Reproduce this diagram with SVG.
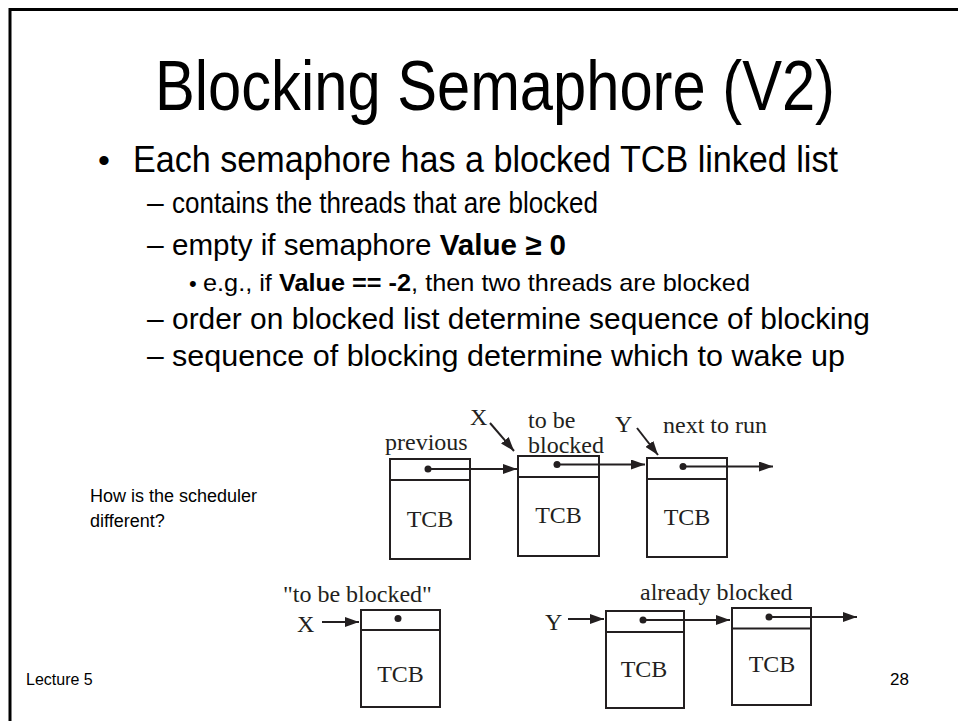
<svg xmlns="http://www.w3.org/2000/svg" width="958" height="721" viewBox="0 0 958 721">
<style>
.s{font-family:"Liberation Sans",Arial,sans-serif;fill:#000}
.l2{font-size:30px}
.t{font-family:"Liberation Serif","Times New Roman",serif;fill:#231f20;font-size:24px}
.box{fill:none;stroke:#231f20;stroke-width:2}
.ln{stroke:#231f20;stroke-width:2;fill:none}
.dot{fill:#231f20}
</style>
<defs>
<marker id="ah" viewBox="0 0 14 10" refX="14" refY="5" markerUnits="userSpaceOnUse" markerWidth="14" markerHeight="10" orient="auto">
<path d="M0,0 L14,5 L0,10 z" fill="#231f20"/>
</marker>
</defs>
<rect width="958" height="721" fill="#fff"/>
<path d="M10,721 L10,9.5 L958,9.5" fill="none" stroke="#000" stroke-width="3"/>

<g id="title"><text class="s" font-size="70" x="155" y="110" textLength="680" lengthAdjust="spacingAndGlyphs">Blocking Semaphore (V2)</text></g>

<g id="bullets">
<text class="s" font-size="34" x="98" y="172">•</text>
<text class="s" font-size="36" x="133" y="172" textLength="705" lengthAdjust="spacingAndGlyphs">Each semaphore has a blocked TCB linked list</text>
<text class="s l2" x="147" y="213">–</text>
<text class="s l2" x="172" y="213" textLength="426" lengthAdjust="spacingAndGlyphs">contains the threads that are blocked</text>
<text class="s l2" x="147" y="255">–</text>
<text class="s l2" x="172" y="255" textLength="394" lengthAdjust="spacingAndGlyphs">empty if semaphore <tspan font-weight="bold">Value ≥ 0</tspan></text>
<text class="s" font-size="22" x="189" y="291">•</text>
<text class="s" font-size="24" x="203" y="291" textLength="547" lengthAdjust="spacingAndGlyphs">e.g., if <tspan font-weight="bold">Value == -2</tspan>, then two threads are blocked</text>
<text class="s l2" x="147" y="329">–</text>
<text class="s l2" x="172" y="329" textLength="698" lengthAdjust="spacingAndGlyphs">order on blocked list determine sequence of blocking</text>
<text class="s l2" x="147" y="366">–</text>
<text class="s l2" x="172" y="366" textLength="673" lengthAdjust="spacingAndGlyphs">sequence of blocking determine which to wake up</text>
</g>

<g id="question">
<text class="s" font-size="18" x="90" y="502">How is the scheduler</text>
<text class="s" font-size="18" x="90" y="527">different?</text>
</g>

<g id="tcb-prev">
<rect class="box" x="390" y="459" width="80" height="100"/>
<line class="ln" x1="390" y1="480" x2="470" y2="480"/>
<circle class="dot" cx="428" cy="469" r="3.5"/>
<text class="t" x="385" y="450">previous</text>
<text class="t" x="430" y="527" text-anchor="middle">TCB</text>
</g>
<g id="tcb-tobeblocked">
<rect class="box" x="518" y="456" width="81" height="100"/>
<line class="ln" x1="518" y1="477" x2="599" y2="477"/>
<circle class="dot" cx="557" cy="464.5" r="3.5"/>
<text class="t" x="528" y="428">to be</text>
<text class="t" x="528" y="453">blocked</text>
<text class="t" x="558.5" y="523" text-anchor="middle">TCB</text>
</g>
<g id="tcb-next">
<rect class="box" x="647" y="458" width="80" height="99"/>
<line class="ln" x1="647" y1="479" x2="727" y2="479"/>
<circle class="dot" cx="683" cy="466.5" r="3.5"/>
<text class="t" x="663" y="433">next to run</text>
<text class="t" x="687" y="525" text-anchor="middle">TCB</text>
</g>
<g id="label-x1"><text class="t" x="470" y="425">X</text></g>
<g id="label-y1"><text class="t" x="615" y="432">Y</text></g>

<g id="tcb-x">
<text class="t" x="283" y="602">"to be blocked"</text>
<text class="t" x="297" y="632">X</text>
<rect class="box" x="361" y="610" width="79" height="97"/>
<line class="ln" x1="361" y1="630" x2="440" y2="630"/>
<circle class="dot" cx="398" cy="618.5" r="3.5"/>
<text class="t" x="400.5" y="682" text-anchor="middle">TCB</text>
</g>
<g id="tcb-blocked1">
<text class="t" x="545" y="630">Y</text>
<rect class="box" x="606" y="611" width="78" height="97"/>
<line class="ln" x1="606" y1="632" x2="684" y2="632"/>
<circle class="dot" cx="643" cy="620" r="3.5"/>
<text class="t" x="644" y="677" text-anchor="middle">TCB</text>
<text class="t" x="640" y="600">already blocked</text>
</g>
<g id="tcb-blocked2">
<rect class="box" x="732" y="608" width="79" height="97"/>
<line class="ln" x1="732" y1="628.5" x2="811" y2="628.5"/>
<circle class="dot" cx="769" cy="617" r="3.5"/>
<text class="t" x="772" y="672" text-anchor="middle">TCB</text>
</g>

<g id="connectors">
<line class="ln" x1="428" y1="469" x2="517" y2="469" marker-end="url(#ah)"/>
<line class="ln" x1="557" y1="464.5" x2="645" y2="464.5" marker-end="url(#ah)"/>
<line class="ln" x1="683" y1="466.5" x2="773" y2="466.5" marker-end="url(#ah)"/>
<line class="ln" x1="490" y1="423" x2="514" y2="451" marker-end="url(#ah)"/>
<line class="ln" x1="637" y1="428" x2="658" y2="455" marker-end="url(#ah)"/>
<line class="ln" x1="322" y1="622" x2="359" y2="622" marker-end="url(#ah)"/>
<line class="ln" x1="568" y1="619" x2="604" y2="619" marker-end="url(#ah)"/>
<line class="ln" x1="643" y1="620" x2="730" y2="620" marker-end="url(#ah)"/>
<line class="ln" x1="769" y1="617" x2="857" y2="617" marker-end="url(#ah)"/>
</g>

<g id="footer">
<text class="s" font-size="16" x="26" y="685">Lecture 5</text>
<text class="s" font-size="17" x="890" y="685">28</text>
</g>
</svg>
